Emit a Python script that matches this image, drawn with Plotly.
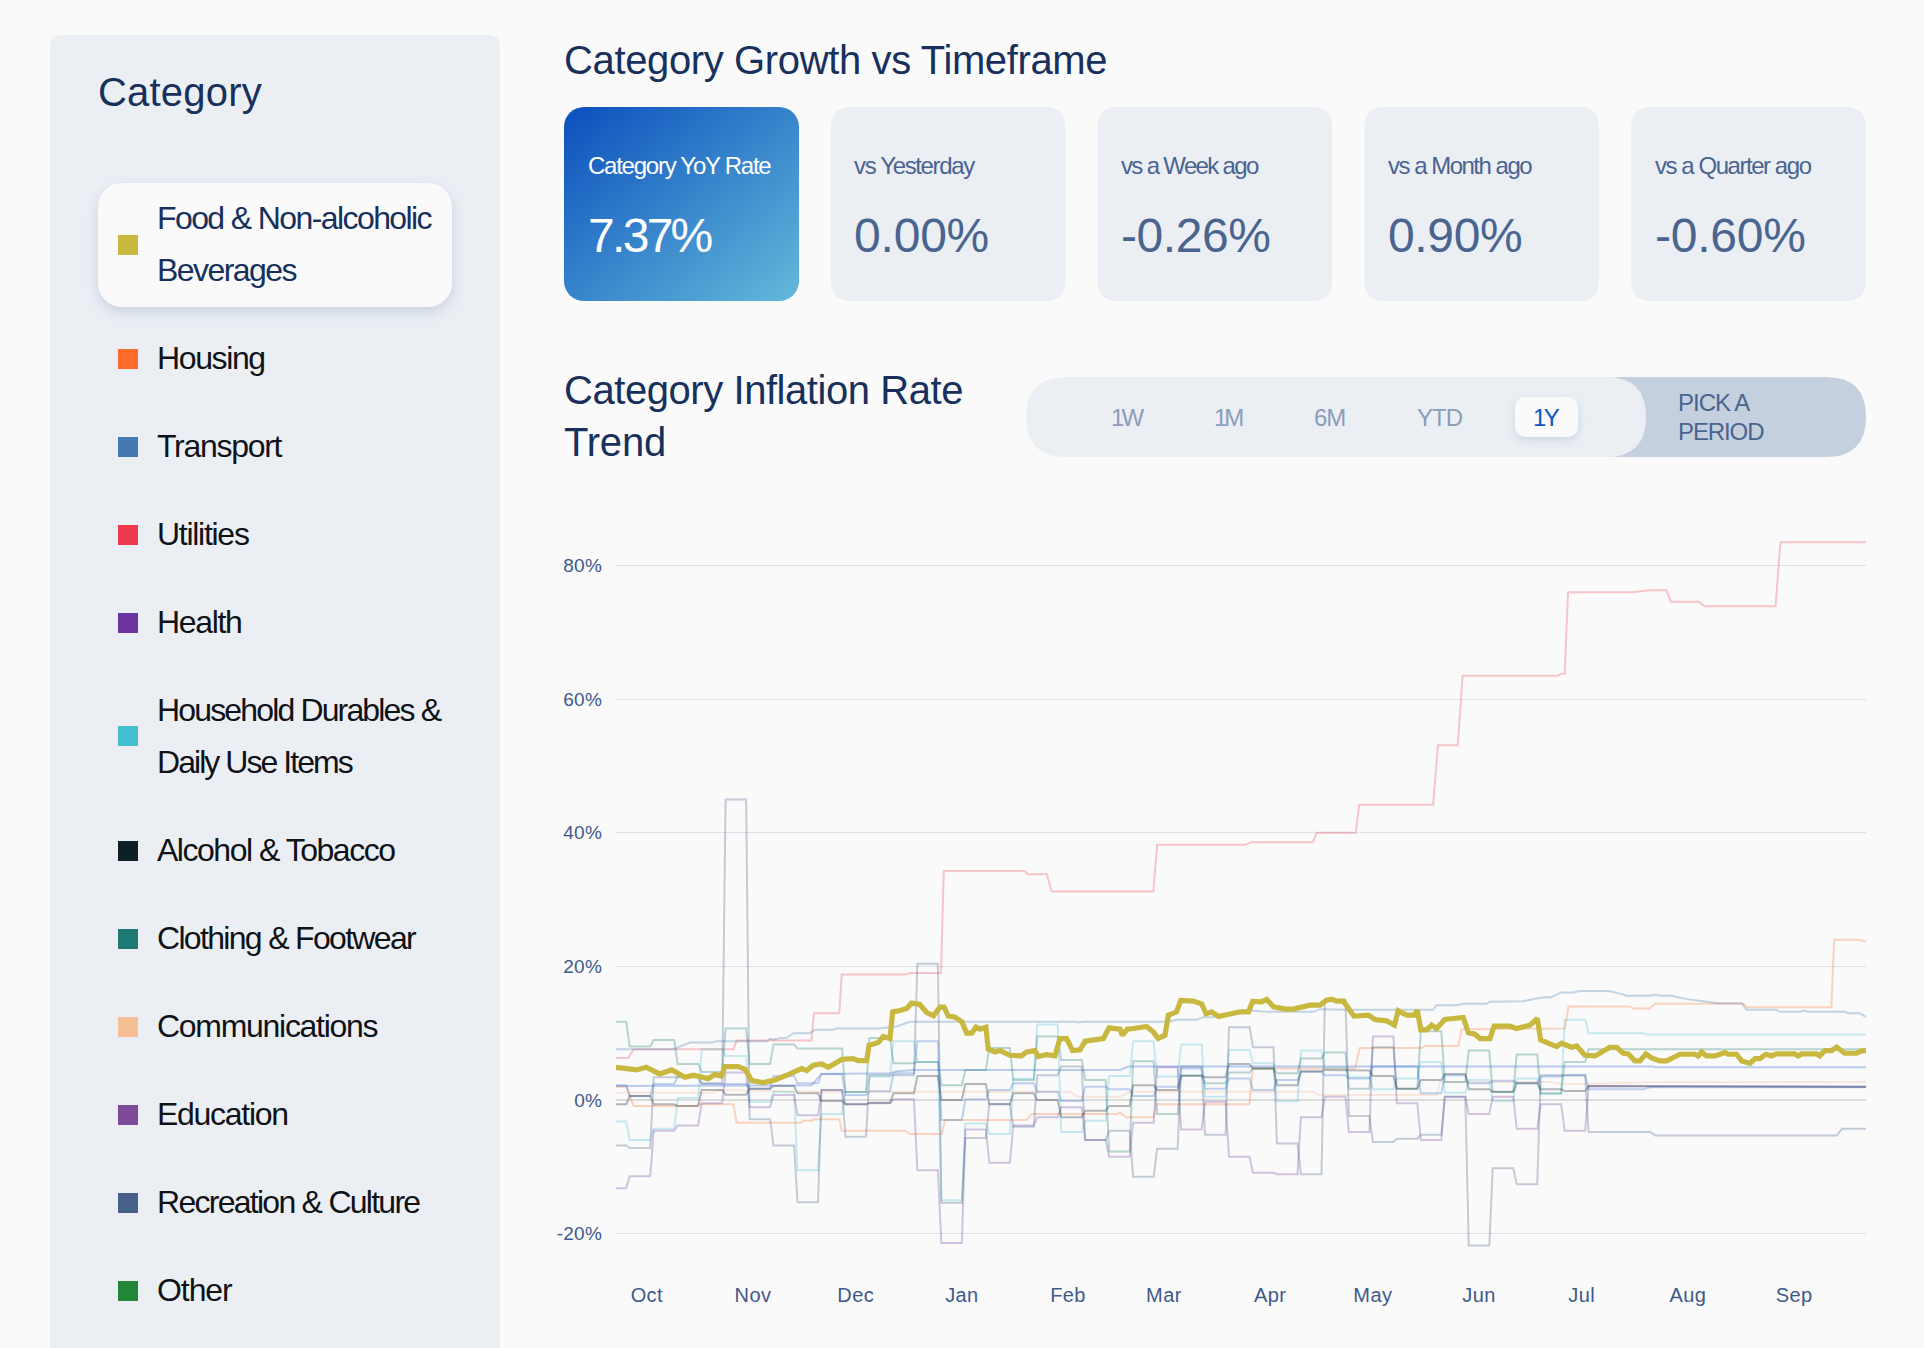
import base64
import pandas as pd
import plotly.graph_objects as go

W, H = 1924, 1348
FONT = "Liberation Sans"
NAVY = "#17305c"
SLATE = "#4a6490"
PANEL = "#ebeff4"
BG = "#fafafa"

# ---------- data ----------
start_date = "2022-09-22"
end_date = "2023-09-22"
month_ticks = ["2022-10-01", "2022-11-01", "2022-12-01", "2023-01-01", "2023-02-01", "2023-03-01",
               "2023-04-01", "2023-05-01", "2023-06-01", "2023-07-01", "2023-08-01", "2023-09-01"]
month_labels = ["Oct", "Nov", "Dec", "Jan", "Feb", "Mar", "Apr", "May", "Jun", "Jul", "Aug", "Sep"]
y_ticks = [-20, 0, 20, 40, 60, 80]
y_labels = ["-20%", "0%", "20%", "40%", "60%", "80%"]

# days after start_date on which the weekly-updated series change
week_days = [0, 4, 11, 18, 25, 32, 39, 46, 53, 60, 67, 74, 81, 88, 95, 102, 109, 116, 123, 130, 137,
             144, 151, 158, 165, 172, 179, 186, 193, 200, 207, 214, 221, 228, 235, 242, 249, 256, 263, 270, 277, 284]

recreation_w = [-6.8, -7.2, 3.4, 3.4, 2.5, 45, -2.9, -6.8, -15.3, 1.5, -5.5, 3.7, 3.7, 20.4, -15.4, -5.7, -0.6, -4, 3.7, 5, -6,
                -4.6, -11.5, -7.3, 5, -5.2, 10.9, 7.9, -6.5, -11.1, 15, -2.4, -6.3, -5.8, -5.2, 0.5, -21.8, -10.2, -12.6, 3.7, 3.7]
recreation_d = [284, 302, 303.5, 356.5, 358, 365]
recreation_v = [-4.8, -4.8, -5.3, -5.3, -4.3, -4.3]

clothing_w = [11.7, 8, 9, 5.4, 4.2, 10.7, 5.4, 8.3, 7.7, 7.7, 1.2, 9.3, 5.5, 5.7, 2.2, 4.5, 7.8, 3, 9.5, 6, 3,
              -7.7, 5.8, -2.1, 3.7, 2.5, 4.1, 4.7, 4, 6.2, 7.1, 1.7, 7.9, 1.7, 10.3, 2.7, 7.4, 1.2, 6.8, 1, 5.7]
clothing_d = [284, 365]
clothing_v = [7.6, 7.6]

household_w = [-3.2, -6, -4.3, 0.3, 7.6, 6.6, -0.25, 1.2, -10.5, -2.1, 1.2, 3.5, 8.8, 5.7, -15, -3.5, -5.1, 3.2, 11.3, -4.8, -3.1,
               3.6, 8.8, 3.5, 8.3, 0.5, 7.5, 5.5, -0.2, 7.4, 4.8, 3.4, 1.6, 3.2, 5.7, 1.1, 3, -0.15, 3.2, 0.9, 12]
household_d = [284, 300, 301, 365]
household_v = [10, 10, 9.8, 9.8]

health_w = [-13.2, -11.4, -4.6, -3.8, -0.5, 4.1, -1.1, 0.75, -2.3, 1.5, -0.65, -0.5, 0.1, -10.5, -21.4, -4.4, -9.4, -3.8, -2.6, -1.1, -6,
            -8.5, -3.4, 4.9, -4.4, -0.25, -8.5, -10.9, -11.1, -2.6, 0.5, -4.8, 9.5, -0.5, -6, 0.5, -2.1, 0.5, -4.3, -0.65, -4.6]
health_d = [284, 302, 303.5, 365]
health_v = [2.1, 2.1, 2, 2]

other_w = [2.2, 0.6, 2.4, 3.5, 2.4, 2.4, 1.7, 3.6, 2.5, 3.9, 0.75, 1.3, 4, 8.8, -3, 0.1, 1.5, 2.5, 1.25, -0.15, 2,
           1.6, 0.6, 2, 4.7, 1.7, 3.2, 1.5, 3, 4.2, 3.7, 3.2, 5, 5, 1, 3.7, 2.5, 2.9, 2.5, 3.5, 3.7]
other_d = [284, 300, 302, 365]
other_v = [1.6, 1.6, 1.9, 1.9]

alcohol_w = [-0.65, 0.6, -0.65, -0.9, 1.5, 0.8, 1.7, 2.1, 1, -0.15, -0.65, -0.4, 1, 3.6, 0, 2.4, -0.65, 1, 0, -2.6, -1.6,
             -0.9, 2.2, 1.5, 3.6, 3.4, 5.4, 4.7, 2.2, 4.3, 4.5, 4.4, 3.6, 1.7, 3, 3.9, 1.6, 1.25, 2.5, 1.6, 1.35]
alcohol_d = [284, 302, 303.5, 365]
alcohol_v = [2.1, 2.1, 2, 2]

education_d = [0, 16.7, 57.1, 60, 66, 73.7, 80, 82, 87, 147.2, 149.6, 303, 303.5, 365]
education_v = [2.1, 2.1, 2.2, 3.9, 3.9, 4, 4, 4.3, 4.5, 4.5, 5, 5, 4.9, 4.9]

communications_d = [0, 28.4, 30.4, 58.6, 132.6, 134.5, 147.2, 150.1, 203.6, 205.1, 239.6, 240.6, 272.7, 276.6, 283, 302.9, 365]
communications_v = [1.1, 1.1, 1.5, 1.25, 1.25, 0.5, 0.5, 1.25, 1.25, 0.75, 0.75, 2.7, 2.7, 2.4, 2.4, 2.7, 2.7]

housing_d = [0, 3.1, 5.1, 23.5, 24, 34.3, 35.2, 54.2, 54.7, 57.1, 57.8, 65.2, 65.9, 84.4, 85.8, 95.1, 96.1, 119.9, 121.4,
             146.2, 147.2, 149.1, 156.9, 157.8, 185, 185.9, 215.8, 217.2, 235.2, 236.2, 246, 246.9, 277.1, 278.1, 296.1,
             297, 301.9, 303.4, 329.2, 330.1, 354.9, 355.7, 363, 365]
housing_v = [2, 2, -0.9, -0.9, -0.65, -0.65, -3.4, -3.4, -3.1, -3.1, -2.9, -2.9, -4.6, -4.6, -5.1, -5.1, -3, -3, -2.1,
             -2.1, -1.9, -2.6, -2.6, -0.65, -0.65, 4.7, 4.7, 7.8, 7.8, 8.1, 8.1, 10.6, 10.7, 14, 14,
             13.7, 13.7, 14.4, 14.4, 13.9, 13.9, 24, 24, 23.7]

transport_d = [0, 16.7, 19.2, 21.6, 27.9, 29.4, 44, 45, 45.9, 47.9, 49.8, 51.8, 56.6, 58.1, 63.4, 64.4, 76.6, 81.9, 85.8,
               110.7, 112.1, 134, 135, 136.4, 161.3, 163.7, 169.5, 171.5, 174.4, 176.3, 182.2, 184.7, 190, 203.6, 205.6,
               212.9, 238.6, 239.6, 245.5, 247.4, 254.2, 255.2, 262, 264.9, 268.8, 271.7, 272.7, 276.1, 279.5, 281.5,
               289.7, 292.7, 295.1, 301.9, 303.4, 304.8, 308.2, 312.6, 317.5, 321.4, 328.7, 330.1, 338.9, 339.9, 345.7,
               347.2, 348.1, 358.8, 359.8, 363.2, 364.7, 365]
transport_v = [7.6, 7.6, 8.1, 8.6, 8.6, 8.8, 8.8, 9.2, 9, 9.3, 9.3, 10, 10, 10.5, 10.5, 10.7, 10.7, 11, 11.7,
               11.6, 11.7, 11.7, 11.6, 11.7, 11.7, 12, 12, 12.4, 12.4, 12.7, 13, 13.4, 13.2, 13.2, 13.6,
               13.5, 13.5, 14.2, 14.2, 14.4, 14.4, 14.7, 14.7, 14.8, 15.2, 15.4, 15.3, 16.1, 16.1, 16.3,
               16.3, 16, 15.6, 15.6, 15.8, 15.6, 15.6, 15.1, 14.8, 14.5, 14.5, 13.5, 13.5, 13.2, 13.2,
               13.4, 13.2, 13.2, 13, 13, 12.5, 12.5]

utilities_d = [0, 3.6, 5.1, 34.3, 35.2, 57.1, 57.8, 65.2, 65.9, 84.8, 85.8, 94.9, 95.7, 119.3, 120.4, 125.8, 127.2, 156.9,
               158, 183.8, 185.6, 203.5, 204.6, 216, 217, 238.6, 240, 245.8, 247.2, 275, 275.9, 277, 278, 296.7, 302,
               306.7, 308, 316, 318, 338.6, 340, 365]
utilities_v = [6.3, 6.3, 7.6, 7.6, 8.9, 8.9, 13, 13, 18.8, 18.8, 19, 19, 34.3, 34.3, 33.8, 33.8, 31.2, 31.2,
               38.2, 38.2, 38.6, 38.6, 40, 40, 44.2, 44.2, 53.1, 53.1, 63.5, 63.5, 63.8, 63.8, 76, 76, 76.3,
               76.3, 74.6, 74.6, 73.9, 73.9, 83.5, 83.5]

food_d = [0, 3.1, 6, 8.8, 12.7, 16.3, 20.1, 22.6, 24.5, 26.9, 28.9, 30.8, 31.8, 35.7, 37.7, 39.6, 43, 46.4, 50.8, 54.2,
          55.7, 57.6, 60, 62, 64.4, 65.9, 69.3, 70.7, 73.2, 73.9, 76.6, 78, 80, 80.8, 82.9, 84.9, 86.3, 88.7, 90.7, 92.7,
          94.6, 95.8, 97, 99, 101, 102.4, 103.9, 105.1, 106.3, 108, 108.7, 110.7, 112.1, 115, 118.4, 119.9, 122.3, 123.3,
          125.7, 128.2, 129.6, 131.6, 133.3, 135.5, 137, 140.3, 142.3, 144, 147.2, 147.8, 149.3, 151, 154.9, 156.9, 158.3,
          160.3, 161.3, 163.7, 164.9, 168.5, 171, 172.3, 173.9, 175.9, 177.8, 182.2, 184.7, 185.9, 188.5, 190, 192, 195.4,
          197.8, 200.2, 202.6, 205.6, 207.5, 209, 210.4, 212.4, 215.5, 219.7, 221.6, 225, 227.3, 228.4, 230.9, 233.1, 234,
          235, 236.7, 238.2, 239.6, 242, 246.4, 247.4, 248.9, 250.8, 252.3, 255.2, 256.4, 261, 263, 266.9, 269, 270, 272.7,
          274.7, 276.1, 279, 280.5, 282.9, 285.9, 287.8, 290.2, 292.2, 294.1, 295.6, 297.5, 299, 300.7, 302.4, 304.8, 306.8,
          310.7, 315, 316, 317, 318.4, 320.9, 323.8, 324.8, 327.2, 328.7, 331.1, 332.6, 334, 335.8, 337.4, 338.9, 344.2,
          345.2, 346.2, 350.6, 351.5, 353, 354.9, 356.4, 358.8, 362.2, 363.7, 365]
food_v = [4.9, 4.6, 4.5, 4.9, 3.9, 4.5, 3.4, 3.7, 3.4, 3.2, 3.8, 3.6, 5, 5, 4.6, 2.9, 2.6, 3, 3.9, 4.7,
          4.4, 5.2, 5.4, 4.9, 5.6, 6.1, 6.2, 5.9, 5.9, 8.2, 8.6, 9.5, 9.2, 13.2, 13.4, 13.7, 14.5, 14.3, 13.1, 12.6,
          13.9, 13.9, 12.6, 12.4, 11.7, 10, 10, 10.9, 10.6, 10.9, 7.6, 7.2, 7.4, 6.7, 6.6, 7.2, 7.4, 6.5,
          6.8, 6.6, 9.2, 9.2, 7.4, 7.5, 8.8, 9, 9.2, 10.8, 10.6, 9.7, 10.6, 10.7, 11, 10.2, 9.2,
          9.7, 12.7, 13.2, 14.9, 14.8, 14.4, 12.9, 13.2, 12.5, 12.7, 13.2, 13.2, 14.75, 14.7, 15.05, 13.95, 13.6,
          13.6, 13.85, 14.2, 14.2, 14.95, 15.1, 14.8, 14.8, 12.55, 12.7, 12.05, 11.85, 11.2, 13.35, 12.7, 12.7, 13.45,
          10.5, 10.5, 11.2, 10.7, 12.05, 12.35, 12.35, 10.05, 9.85, 9.2, 9.2, 11.05, 11.05, 10.7, 11.2, 12.2, 9, 8.4,
          8, 8.5, 7.9, 8.1, 6.7, 6.6, 7.1, 7.9, 7.9, 7, 6.9, 5.85, 5.85, 6.9, 6.3, 5.85, 5.85,
          6.85, 6.85, 6.6, 7.2, 6.6, 6.6, 7.1, 6.85, 6.85, 5.85, 5.5, 6.2, 6.2, 6.85, 6.6, 6.9, 6.9,
          6.6, 6.9, 6.9, 6.6, 7.4, 7.4, 7.9, 7, 7, 7.35, 7.4]

sidebar_items = ["Food & Non-alcoholic|Beverages", "Housing", "Transport", "Utilities", "Health",
                 "Household Durables &|Daily Use Items", "Alcohol & Tobacco", "Clothing & Footwear",
                 "Communications", "Education", "Recreation & Culture", "Other"]
sidebar_colors = ["#c9b83f", "#ff6b2b", "#437bb1", "#ee3a4c", "#6a35a0", "#3fbfd0",
                  "#0c2028", "#1f7a73", "#f5c096", "#7e4b96", "#466089", "#23873a"]
card_labels = ["Category YoY Rate", "vs Yesterday", "vs a Week ago", "vs a Month ago", "vs a Quarter ago"]
card_values = ["7.37%", "0.00%", "-0.26%", "0.90%", "-0.60%"]
period_labels = ["1W", "1M", "6M", "YTD", "1Y"]

# ---------- layout helpers (pixel positions and text tracking of the page furniture) ----------
def fx(px): return px / W
def fy(py): return 1 - py / H

def rrect(x0, y0, x1, y1, r, color, layer="below"):
    p = (f"M{fx(x0 + r)},{fy(y0)} L{fx(x1 - r)},{fy(y0)} Q{fx(x1)},{fy(y0)} {fx(x1)},{fy(y0 + r)} "
         f"L{fx(x1)},{fy(y1 - r)} Q{fx(x1)},{fy(y1)} {fx(x1 - r)},{fy(y1)} "
         f"L{fx(x0 + r)},{fy(y1)} Q{fx(x0)},{fy(y1)} {fx(x0)},{fy(y1 - r)} "
         f"L{fx(x0)},{fy(y0 + r)} Q{fx(x0)},{fy(y0)} {fx(x0 + r)},{fy(y0)} Z")
    return dict(type="path", xref="paper", yref="paper", path=p, fillcolor=color,
                line=dict(width=0), layer=layer)

def text(px, py, s, size, color, spacing=0.0, anchor="left"):
    body = f'<span style="letter-spacing:{spacing}px">{s}</span>' if spacing else s
    return dict(xref="paper", yref="paper", x=fx(px), y=fy(py), text=body, showarrow=False,
                xanchor=anchor, yanchor="middle", align=anchor,
                font=dict(family=FONT, size=size, color=color), borderpad=0, borderwidth=0)

def svg_image(svg, x, y, w, h, layer="below"):
    src = "data:image/svg+xml;base64," + base64.b64encode(svg.encode()).decode()
    return dict(source=src, xref="paper", yref="paper", x=fx(x), y=fy(y), sizex=w / W, sizey=h / H,
                xanchor="left", yanchor="top", sizing="stretch", layer=layer, opacity=1)

def raised_box(x0, y0, x1, y1, r, blur, dy, shadow_opacity):
    m = 40
    w, h = x1 - x0, y1 - y0
    svg = (f'<svg xmlns="http://www.w3.org/2000/svg" width="{w + 2 * m}" height="{h + 2 * m}">'
           f'<defs><filter id="b" x="-50%" y="-50%" width="200%" height="200%">'
           f'<feGaussianBlur stdDeviation="{blur}"/></filter></defs>'
           f'<rect x="{m}" y="{m + dy}" width="{w}" height="{h}" rx="{r}" fill="#7f93b8" '
           f'fill-opacity="{shadow_opacity}" filter="url(#b)"/>'
           f'<rect x="{m}" y="{m}" width="{w}" height="{h}" rx="{r}" fill="{BG}"/></svg>')
    return svg_image(svg, x0 - m, y0 - m, w + 2 * m, h + 2 * m, layer="above")

shapes, annotations, images = [], [], []

# sidebar
shapes.append(rrect(50, 35, 500, 1420, 12, PANEL))
annotations.append(text(97.5, 92, "Category", 40, NAVY, 0.2))
images.append(raised_box(98, 183, 452, 307, 24, 7, 5, 0.32))

swatch_centers = [245, 359, 447, 535, 623, 736, 851, 939, 1027, 1115, 1203, 1291]
item_spacing = [(-1.6, -1.55), -1.38, -1.28, -1.28, -1.35, (-1.85, -1.95), -1.48, -1.68, -1.29, -1.28, -1.73, -1.07]
for name, col, cy, sp in zip(sidebar_items, sidebar_colors, swatch_centers, item_spacing):
    shapes.append(dict(type="rect", xref="paper", yref="paper", x0=fx(118), x1=fx(138), y0=fy(cy - 10), y1=fy(cy + 10),
                       fillcolor=col, line=dict(width=0), layer="above"))
    tcol = NAVY if name.startswith("Food") else "#0f1216"
    parts = name.split("|")
    if len(parts) == 2:
        off = -26 if name.startswith("Household") else -27
        annotations.append(text(157, cy + off, parts[0].replace("&", "&amp;"), 32, tcol, sp[0]))
        annotations.append(text(157, cy + off + 52, parts[1], 32, tcol, sp[1]))
    else:
        annotations.append(text(157, cy - 1, parts[0].replace("&", "&amp;"), 32, tcol, sp))

# headings
annotations.append(text(564, 60, "Category Growth vs Timeframe", 40, NAVY, -0.37))
annotations.append(text(564, 390, "Category Inflation Rate", 40, NAVY, -0.44))
annotations.append(text(564, 442, "Trend", 40, NAVY, -0.2))

# cards
card_w, card_step = 234.6, 266.8
grad = ('<svg xmlns="http://www.w3.org/2000/svg" width="235" height="194"><defs>'
        '<linearGradient id="g" x1="0" y1="0" x2="1" y2="1"><stop offset="0" stop-color="#0b4fbd"/>'
        '<stop offset="1" stop-color="#63b9da"/></linearGradient></defs>'
        '<rect width="235" height="194" rx="20" fill="url(#g)"/></svg>')
images.append(svg_image(grad, 564, 107, 235, 194))
label_spacing = [-1.25, -1.35, -1.67, -1.5, -1.45]
value_spacing = [-2.7, -0.2, -0.45, -0.35, -0.25]
for i, (lab, val) in enumerate(zip(card_labels, card_values)):
    x0 = 564 + i * card_step
    if i > 0:
        shapes.append(rrect(x0, 107, x0 + card_w, 301, 20, PANEL))
    annotations.append(text(x0 + 23.5, 165, lab, 24, "#ffffff" if i == 0 else SLATE, label_spacing[i]))
    annotations.append(text(x0 + 23.5, 236, val, 48, "#ffffff" if i == 0 else SLATE, value_spacing[i]))

# period selector
shapes.append(rrect(1580, 377, 1866, 457, 40, "#c5d0df"))
shapes.append(rrect(1026, 377, 1646, 457, 40, "#ebeff4"))
images.append(raised_box(1515, 397, 1578, 437, 10, 4, 3, 0.3))
period_spacing = [-2.8, -3.0, -1.0, -1.0, -2.5]
for lab, cx, sp in zip(period_labels, [1127.5, 1228, 1329, 1440, 1546], period_spacing):
    annotations.append(text(cx, 417, lab, 24, "#0f55c0" if lab == "1Y" else "#8c9cbb", sp, "center"))
annotations.append(text(1678, 403, "PICK A", 24, SLATE, -1.0))
annotations.append(text(1678, 431, "PERIOD", 24, SLATE, -1.1))

# ---------- series ----------
def weekly(values, tail_d, tail_v):
    days, vals = [], []
    for i, v in enumerate(values):
        days += [week_days[i], week_days[i + 1] - 1]
        vals += [v, v]
    return days + tail_d, vals + tail_v

def to_dates(days):
    return [(pd.Timestamp(start_date) + pd.to_timedelta(d, unit="D")).isoformat() for d in days]

series = [
    ("Communications", communications_d, communications_v, "#f59a6a", 0.2),
    ("Housing", housing_d, housing_v, "#ff6b2b", 0.28),
    ("Utilities", utilities_d, utilities_v, "#ee3a4c", 0.28),
    ("Transport", transport_d, transport_v, "#437bb1", 0.3),
    ("Education", education_d, education_v, "#2763d0", 0.3),
    ("Household Durables & Daily Use Items", *weekly(household_w, household_d, household_v), "#3fbfd0", 0.28),
    ("Clothing & Footwear", *weekly(clothing_w, clothing_d, clothing_v), "#1f7a73", 0.3),
    ("Health", *weekly(health_w, health_d, health_v), "#6a35a0", 0.28),
    ("Other", *weekly(other_w, other_d, other_v), "#2763d0", 0.28),
    ("Alcohol & Tobacco", *weekly(alcohol_w, alcohol_d, alcohol_v), "#0c2028", 0.3),
    ("Recreation & Culture", *weekly(recreation_w, recreation_d, recreation_v), "#466089", 0.3),
]

fig = go.Figure()
for name, d, v, col, op in series:
    fig.add_trace(go.Scatter(x=to_dates(d), y=v, mode="lines", name=name, opacity=op,
                             line=dict(color=col, width=2), hoverinfo="skip", showlegend=False))
fig.add_trace(go.Scatter(x=to_dates(food_d), y=food_v, mode="lines", name="Food & Non-alcoholic Beverages",
                         line=dict(color="#c9b83f", width=5.2), hoverinfo="skip", showlegend=False))

# axis placement: 0% sits at page y 1100, 6.68 px per percentage point
zero_py, px_per_pct = 1100, 6.68
y_top, y_bot = 86, -27.1
plot_top, plot_bot = zero_py - y_top * px_per_pct, zero_py - y_bot * px_per_pct

def tracked(labels, spacing):
    return [f'<span style="letter-spacing:{spacing}px">{t}</span>' for t in labels]

fig.update_layout(
    width=W, height=H, autosize=False,
    margin=dict(l=0, r=0, t=0, b=0, pad=0),
    paper_bgcolor=BG, plot_bgcolor="rgba(0,0,0,0)",
    shapes=shapes, annotations=annotations, images=images, showlegend=False,
    xaxis=dict(domain=[fx(616), fx(1866)], type="date", range=[start_date, end_date],
               tickmode="array", tickvals=month_ticks, ticktext=tracked(month_labels, 0.4), ticks="",
               showgrid=False, zeroline=False, showline=False,
               tickfont=dict(family=FONT, size=20, color="#40598a")),
    yaxis=dict(domain=[fy(plot_bot), fy(plot_top)], range=[y_bot, y_top],
               tickmode="array", tickvals=y_ticks, ticktext=tracked(y_labels, 0.3), ticks="outside", ticklen=9,
               tickcolor="rgba(0,0,0,0)", showgrid=True, gridcolor="#dfe1e7", gridwidth=1.2,
               zeroline=True, zerolinecolor="#dcdcdc", zerolinewidth=2.4, showline=False,
               tickfont=dict(family=FONT, size=19, color="#40598a")),
)

fig.write_html("out.html", post_script="document.body.style.margin='0';document.body.style.overflow='hidden';",
               config=dict(displayModeBar=False))
